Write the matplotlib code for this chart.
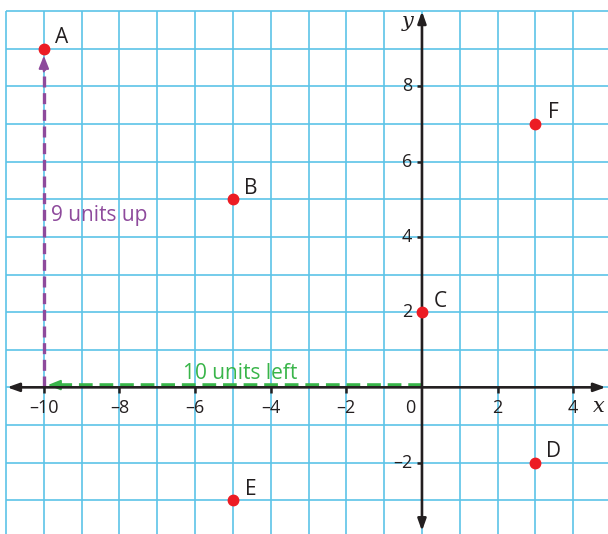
import matplotlib
matplotlib.use("Agg")
import matplotlib.pyplot as plt
import numpy as np

# ---- data ----
point_labels = ["A", "B", "C", "D", "E", "F"]
point_x = [-10, -5, 0, 3, -5, 3]
point_y = [9, 5, 2, -2, -3, 7]

x_ticks = [-10, -8, -6, -4, -2, 2, 4]
y_ticks = [-2, 2, 4, 6, 8]

move_left_from = (0, 0)
move_left_to = (-10, 0)
move_up_from = (-10, 0)
move_up_to = (-10, 9)
text_left = "10 units left"
text_up = "9 units up"

# ---- style ----
plt.rcParams['font.family'] = ['Open Sans', 'DejaVu Sans']
grid_c = "#5CC4E8"
axis_c = "#231F20"
red = "#EC1C24"
purple = "#8E4A9C"
green = "#39B54A"

fig = plt.figure(figsize=(6.08, 5.34), dpi=100)
ax = fig.add_axes([0, 0, 1, 1])
ax.set_xlim(-11.16, 4.92)
ax.set_ylim(-3.9, 10.3)
ax.axis("off")

# grid
gx = np.arange(-11, 5)
gy = np.arange(-3, 11)
ax.vlines(gx, -3.9, 10, color=grid_c, lw=1.2, zorder=1)
ax.hlines(gy, -11, 4.92, color=grid_c, lw=1.2, zorder=1)

# axes with arrows
arr = dict(arrowstyle="<|-|>,head_length=0.7,head_width=0.25", color=axis_c, lw=1.9,
           shrinkA=0, shrinkB=0)
ax.annotate("", xy=(4.86, 0), xytext=(-10.97, 0), arrowprops=arr, zorder=3)
ax.annotate("", xy=(0, 10.0), xytext=(0, -3.82), arrowprops=arr, zorder=3)

# ticks
for t in x_ticks:
    ax.plot([t, t], [0, -0.16], color=axis_c, lw=1.8, zorder=3, solid_capstyle="butt")
    lab = ("\u2013" + str(abs(t))) if t < 0 else str(t)
    ax.text(t, -0.55, lab, ha="center", va="center", fontsize=13, color=axis_c)
for t in y_ticks:
    ax.plot([-0.14, 0], [t, t], color=axis_c, lw=1.8, zorder=3, solid_capstyle="butt")
    lab = ("\u2013" + str(abs(t))) if t < 0 else str(t)
    ax.text(-0.26, t, lab, ha="right", va="center", fontsize=13, color=axis_c)
ax.text(-0.32, -0.55, "0", ha="center", va="center", fontsize=13, color=axis_c)
ax.text(-0.37, 9.72, "y", ha="center", va="center", fontsize=15, style="italic",
        family="DejaVu Serif", color=axis_c)
ax.text(4.68, -0.5, "x", ha="center", va="center", fontsize=15, style="italic",
        family="DejaVu Serif", color=axis_c)

# movement arrows: dashed shaft + solid head
gy0 = 0.06
ax.plot([move_left_from[0], move_left_to[0] + 0.35], [move_left_from[1] + gy0, move_left_to[1] + gy0],
        color=green, lw=2.6, linestyle=(0, (3.8, 1.9)), zorder=2, dash_capstyle="butt")
ax.annotate("", xy=(move_left_to[0] + 0.1, move_left_to[1] + gy0),
            xytext=(move_left_to[0] + 0.5, move_left_to[1] + gy0),
            arrowprops=dict(arrowstyle="-|>,head_length=0.75,head_width=0.3", color=green,
                            lw=1.5, shrinkA=0, shrinkB=0), zorder=2)
ax.plot([move_up_from[0], move_up_to[0]], [move_up_from[1], move_up_to[1] - 0.5],
        color=purple, lw=2.4, linestyle=(0, (3.3, 1.7)), zorder=2, dash_capstyle="butt")
ax.annotate("", xy=(move_up_to[0], move_up_to[1] - 0.18),
            xytext=(move_up_to[0], move_up_to[1] - 0.6),
            arrowprops=dict(arrowstyle="-|>,head_length=0.75,head_width=0.3", color=purple,
                            lw=1.5, shrinkA=0, shrinkB=0), zorder=2)
ax.text(-4.81, 0.37, text_left, ha="center", va="center", fontsize=15, color=green)
ax.text(-9.81, 4.57, text_up, ha="left", va="center", fontsize=15, color=purple)

# points
ax.plot(point_x, point_y, "o", color=red, ms=7.5, zorder=5, mec=red)
for lab, x, y in zip(point_labels, point_x, point_y):
    ax.annotate(lab, (x, y), xytext=(13, 8), textcoords="offset points",
                ha="center", va="center", fontsize=15, color=axis_c)

fig.savefig("out.png", dpi=100)
